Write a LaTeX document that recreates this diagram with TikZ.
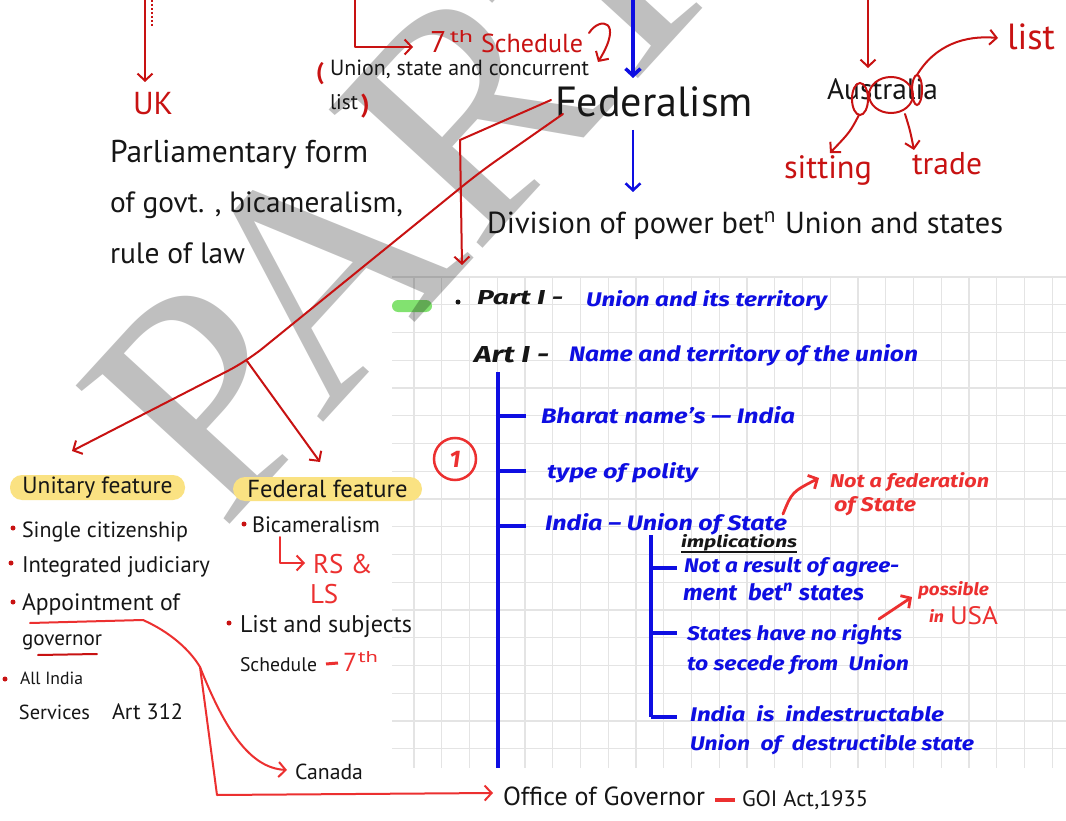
\documentclass[tikz,border=0pt]{standalone}
\usepackage{fontspec}
\setmainfont{PT Sans}
\newfontfamily\hbf{Fira Sans}
\newfontfamily\wmf{Liberation Serif}
\usetikzlibrary{arrows.meta,calc}
\definecolor{hred}{RGB}{200,18,18}
\definecolor{bred}{RGB}{236,48,48}
\definecolor{hblue}{RGB}{14,14,226}
\definecolor{inkc}{RGB}{22,22,22}
\definecolor{gridc}{RGB}{228,228,228}
\definecolor{pillc}{RGB}{250,226,130}
\definecolor{hlc}{RGB}{130,226,112}
\newcommand\rs[2]{\resizebox{#1pt}{!}{#2}}
\newcommand\rsh[3]{\resizebox{#1pt}{#2pt}{#3}}
\newcommand\bist{\hbf\bfseries\itshape}
\begin{document}
\begin{tikzpicture}[x=1pt,y=-1pt,
  tx/.style={inner sep=0pt, outer sep=0pt, anchor=base west},
  sBlack/.style={tx, text=inkc},
  sRed/.style={tx, text=hred},
  sBred/.style={tx, text=bred, font=\bist},
  sBlue/.style={tx, text=hblue, font=\bist},
  sBk/.style={tx, text=inkc, font=\bist},
  rline/.style={draw=hred, line width=2pt, line cap=round, line join=round},
  bline/.style={draw=hblue, line width=4pt},
  arr/.style={-{Straight Barb[length=7pt,width=15pt]}},
  pill/.style={fill=pillc, rounded corners=12pt, inner sep=0pt, text=inkc},
]
\useasboundingbox (0,0) rectangle (1066,821);
\fill[white] (0,0) rectangle (1066,821);

% grid
\foreach \k in {0,...,17} \draw[gridc, line width=1.2pt] (392,{277+27.75*\k}) -- (1066,{277+27.75*\k});
\foreach \k in {0,...,23} \draw[gridc, line width=1.2pt] ({414+27.75*\k},277) -- ({414+27.75*\k},768);
\fill[hlc, rounded corners=6pt] (392,300) rectangle (432,312);

% watermark
\node[inner sep=0pt, anchor=base west, rotate=47.5, text=black, text opacity=0.25, font=\wmf\fontsize{316}{316}\selectfont] (wm) at (222,533) {PART};

% pills
\node[pill, minimum width=175pt, minimum height=25pt] (unit) at (97.5,487.5) {\rs{150}{Unitary feature}};
\node[pill, minimum width=189pt, minimum height=24pt] (fedf) at (327.5,489) {\rs{160}{Federal feature}};

% ---------- top left
\coordinate (ukTop) at (145,0);
\coordinate (ukTip) at (145,82);
\node[sRed] (uk) at (133,115) {\rs{40}{UK}};
\draw[rline, arr] (ukTop) -- (ukTip);
\draw[hred, line width=1.2pt, dash pattern=on 2pt off 2pt] (152,0) -- (152,27);

\node[sBlack] (parl1) at (110,163) {\rs{258}{Parliamentary form}};
\node[sBlack] (parl2) at (110,213) {\rs{293}{of govt. , bicameralism,}};
\node[sBlack] (parl3) at (110,264) {\rs{135}{rule of law}};

% 7th schedule
\coordinate (schTop) at (355,0);
\coordinate (schCorner) at (355,47);
\coordinate (schTip) at (413,47);
\node[tx, text=hred, font=\fontsize{30}{30}\selectfont] (seven) at (430,53) {7};
\node[tx, text=hred] (th) at (450,43) {\rsh{23}{12}{th}};
\node[sRed] (sched) at (481,53) {\rs{102}{Schedule}};
\draw[rline, arr] (schTop) -- (schCorner) -- (schTip);
\node[tx, text=hred, font=\bfseries\fontsize{24}{24}\selectfont] (lpar) at (316,80) {(};
\node[sBlack] (ulist) at (330,76) {\rs{259}{Union, state and concurrent}};
\node[sBlack] (ulist2) at (330,110) {\rs{28}{list}};
\node[tx, text=hred, font=\bfseries\fontsize{26}{26}\selectfont] (rpar) at (361,113) {)};
\coordinate (curlS) at (589,33);
\coordinate (curlT) at (598,62);
\draw[rline, arr] (curlS) .. controls (600,16) and (624,20) .. (curlT);

% federalism
\coordinate (bTop) at (633,0);
\coordinate (bTip) at (633,78);
\node[sBlack] (fed) at (555,117) {\rs{198}{Federalism}};
\draw[hblue, line width=3.5pt, arr] (bTop) -- (bTip);
\coordinate (b2s) at (633,130);
\coordinate (b2t) at (633,192);
\draw[hblue, line width=2.5pt, arr] (b2s) -- (b2t);
\node[sBlack] (div) at (487,234) {\rs{516}{Division of power bet\textsuperscript{n} Union and states}};

% Australia
\node[sBlack] (aus) at (827,100) {\rs{111}{Australia}};
\coordinate (aTop) at (868,0);
\coordinate (aTip) at (868,68);
\draw[rline, arr] (aTop) -- (aTip);
\draw[hred, line width=2pt] (860,99) ellipse [x radius=8pt, y radius=16pt];
\draw[hred, line width=2pt] (891,95) ellipse [x radius=22pt, y radius=18pt];
\draw[hred, line width=2pt] (917,90) ellipse [x radius=5pt, y radius=15pt];
\node[sRed] (list) at (1007,50) {\rs{48}{list}};
\node[sRed] (sit) at (784,179) {\rs{88}{sitting}};
\node[sRed] (trade) at (912,175) {\rs{70}{trade}};
\draw[rline, arr] (917,75) .. controls (935,45) and (965,35) .. ($(list.west |- 0,38)+(-9,0)$);
\draw[rline, arr] (859,115) .. controls (850,132) .. (830,153);
\draw[rline, arr] (905,114) .. controls (910,130) .. (914,150);

% federalism connectors
\coordinate (fA) at (551,100);
\coordinate (fA1) at (460,140);
\coordinate (fA2) at (462,265);
\draw[rline, arr] (fA) -- (fA1) -- (fA2);
\coordinate (fB) at (563,114);
\coordinate (fB1) at (480,172);
\coordinate (fBr) at (247,361);
\coordinate (fBl) at (72,451);
\coordinate (fBf) at (320,462);
\draw[rline, arr, rounded corners=20pt] (fB) -- (fB1) -- (fBr) -- (fBl);
\draw[rline, arr] (fBr) -- (fBf);

% ---------- unitary list
\fill[hred] (13,528) circle (2.5pt);
\node[sBlack] (u1) at (22,537) {\rs{166}{Single citizenship}};
\fill[hred] (11,563) circle (2.5pt);
\node[sBlack] (u2) at (22,572) {\rs{188}{Integrated judiciary}};
\fill[hred] (13,602) circle (2.5pt);
\node[sBlack] (u3) at (22,610) {\rs{158}{Appointment of}};
\node[sBlack] (u3b) at (22,645) {\rs{80}{governor}};
\fill[hred] (5,679) circle (2.5pt);
\node[sBlack] (u4) at (20,684) {\rs{63}{All India}};
\node[sBlack] (u4b) at (19,719) {\rs{71}{Services}};
\node[sBlack] (u4c) at (112,719) {\rs{71}{Art 312}};
\draw[rline] (38,655) -- (97,654);
\node[sBlack] (canada) at (295,779) {\rs{68}{Canada}};
\node[sBlack] (gov) at (503,805) {\rs{202}{Office of Governor}};
\draw[draw=bred, line width=3.5pt] (715,800) -- (735,800);
\node[sBlack] (goi) at (742,806) {\rs{126}{GOI Act,1935}};
\coordinate (ulS) at (30,623);
\coordinate (ulE) at (143,620);
\coordinate (ulB) at (200,667);
\coordinate (ulC) at (217,795);
\draw[rline, draw=bred, arr] (ulS) -- (ulE) .. controls (170,632) and (190,650) .. (ulB) -- (ulC) -- ($(gov.west |- 0,793)+(-10,0)$);
\draw[rline, draw=bred, arr] (ulB) .. controls (225,730) and (250,768) .. ($(canada.west |- 0,770)+(-8,0)$);

% ---------- federal list
\fill[hred] (244,524) circle (2.5pt);
\node[sBlack] (f1) at (252,532) {\rs{128}{Bicameralism}};
\node[tx, text=bred, font=\fontsize{27}{27}\selectfont] (rs) at (313,573) {RS \&};
\node[tx, text=bred, font=\fontsize{27}{27}\selectfont] (ls) at (310,603) {LS};
\draw[rline, draw=bred, arr] (280,537) -- (280,563) -- ($(rs.west |- 0,563)+(-8,0)$);
\fill[hred] (229,623) circle (2.5pt);
\node[sBlack] (f2) at (240,632) {\rs{172}{List and subjects}};
\node[sBlack] (f2b) at (240,671) {\rs{77}{Schedule}};
\draw[draw=bred, line width=3pt] (326,664) -- (338,663);
\node[tx, text=bred, font=\fontsize{26}{26}\selectfont] (s7) at (343,671) {7};
\node[tx, text=bred] (s7th) at (358,662) {\rsh{20}{11}{th}};

% ---------- grid content
\fill[inkc] (458,302) circle (2.5pt);
\node[sBk] (part) at (477,305) {\rsh{86}{14}{Part I -}};
\node[sBlue] (p1) at (586,306) {\rsh{241}{16}{Union and its territory}};
\node[sBk] (art) at (474,362) {\rsh{75}{16}{Art I -}};
\node[sBlue] (art1) at (569,361) {\rsh{349}{17}{Name and territory of the union}};

\draw[bline] (498,372) -- (498,768);
\draw[bline] (498,416) -- (526,416);
\draw[bline] (498,471) -- (526,471);
\draw[bline] (498,526) -- (526,526);
\node[sBlue] (c1) at (541,423) {\rsh{254}{17}{Bharat name’s — India}};
\node[sBlue] (c2) at (547,478) {\rsh{151}{16}{type of polity}};
\node[sBlue] (c3) at (545,530) {\rsh{242}{17}{India – Union of State}};
\node[draw=bred, circle, line width=2.5pt, minimum size=42pt, inner sep=0pt, text=bred, font=\bist\fontsize{24}{24}\selectfont] (one) at (455,459) {1};

\node[sBred] (nf1) at (830,487) {\rsh{159}{15}{Not a federation}};
\node[sBred] (nf2) at (834,511) {\rsh{82}{15}{of State}};
\draw[draw=bred, line width=2.8pt, line cap=round, arr] (783,514) .. controls (792,492) .. (819,478);

\draw[bline] (651,535) -- (651,717);
\draw[bline] (651,568) -- (677,568);
\draw[bline] (651,633) -- (677,633);
\draw[bline] (651,717) -- (677,717);
\node[sBk] (impl) at (681,547) {\rsh{116}{13}{implications}};
\draw[inkc, line width=2pt] (681,552) -- (797,552);
\node[sBlue] (d1) at (684,572) {\rsh{215}{15}{Not a result of agree-}};
\node[sBlue] (d1b) at (683,600) {\rsh{181}{17}{ment\ \ bet\textsuperscript{n} states}};
\node[sBlue] (d2) at (687,640) {\rsh{215}{16}{States have no rights}};
\node[sBlue] (d2b) at (687,670) {\rsh{222}{16}{to secede from\ \ Union}};
\node[sBlue] (d3) at (690,721) {\rsh{254}{16}{India\ \ is\ \ indestructable}};
\node[sBlue] (d3b) at (690,750) {\rsh{284}{16}{Union\ \ of\ \ destructible state}};

\node[sBred] (pos) at (918,595) {\rsh{71}{14}{possible}};
\node[sBred] (in) at (929,622) {\rsh{15}{13}{in}};
\node[tx, text=bred] (usa) at (950,624) {\rsh{48}{18}{USA}};
\draw[draw=bred, line width=2.8pt, line cap=round, arr] (879,619) -- (912,597);
\end{tikzpicture}
\end{document}
